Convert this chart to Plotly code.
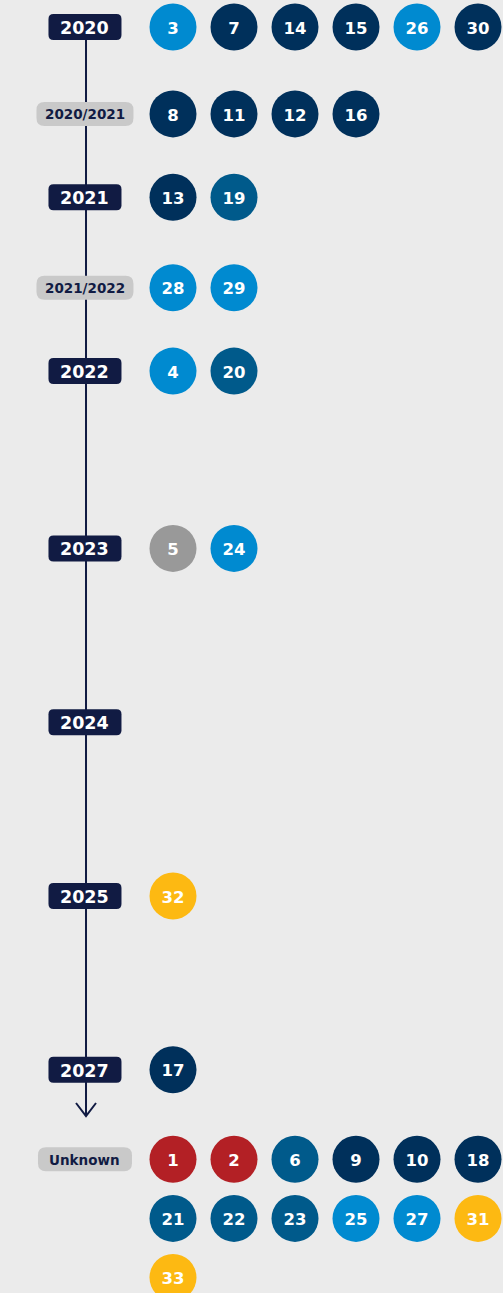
import plotly.graph_objects as go

# ---------------- data ----------------
categories = ["2020", "2020/2021", "2021", "2021/2022", "2022", "2023",
              "2024", "2025", "2027", "Unknown"]
# timeline slot of each category (equal spacing per listed year)
slots = [0, 0.5, 0.98, 1.5, 1.98, 3, 4, 5, 6, 6.515]
is_year = [True, False, True, False, True, True, True, True, True, False]

item_ids = [
    [3, 7, 14, 15, 26, 30],
    [8, 11, 12, 16],
    [13, 19],
    [28, 29],
    [4, 20],
    [5, 24],
    [],
    [32],
    [17],
    [1, 2, 6, 9, 10, 18, 21, 22, 23, 25, 27, 31, 33],
]
item_groups = [
    ["sky", "navy", "navy", "navy", "sky", "navy"],
    ["navy", "navy", "navy", "navy"],
    ["navy", "teal"],
    ["sky", "sky"],
    ["sky", "teal"],
    ["gray", "sky"],
    [],
    ["yellow"],
    ["navy"],
    ["red", "red", "teal", "navy", "navy", "navy", "teal", "teal", "teal",
     "sky", "sky", "yellow", "yellow"],
]
group_colors = {
    "navy": "#00305B",
    "teal": "#005A8B",
    "sky": "#008AD0",
    "gray": "#999999",
    "red": "#B32025",
    "yellow": "#FDB912",
}

# ---------------- styling / geometry ----------------
W, H = 503, 1293
BG = "#EBEBEB"
NAVY = "#111B43"
LGRAY = "#C9C9C9"
FONT = "DejaVu Sans"
per_row = 6
wrap_step = 0.34          # slot distance between wrapped rows
px_per_slot = 173.8
px_per_col = 61.0
top_px = 27.0
first_col_px = 173.0

y_range = [(H - top_px) / px_per_slot, -top_px / px_per_slot]
x_range = [-first_col_px / px_per_col, (W - first_col_px) / px_per_col]
line_x = -1.426
label_x = -1.443


def px2x(p):
    return p / px_per_col


def px2y(p):
    return p / px_per_slot


def rounded_rect(xc, yc, wpx, hpx, rpx):
    hw, hh = px2x(wpx / 2), px2y(hpx / 2)
    rx, ry = px2x(rpx), px2y(rpx)
    x0, x1 = xc - hw, xc + hw
    y0, y1 = yc - hh, yc + hh
    return (f"M {x0+rx},{y0} L {x1-rx},{y0} Q {x1},{y0} {x1},{y0+ry} "
            f"L {x1},{y1-ry} Q {x1},{y1} {x1-rx},{y1} L {x0+rx},{y1} "
            f"Q {x0},{y1} {x0},{y1-ry} L {x0},{y0+ry} Q {x0},{y0} {x0+rx},{y0} Z")


fig = go.Figure()

# circles
xs, ys, txt, cols = [], [], [], []
for slot, ids, grps in zip(slots, item_ids, item_groups):
    for i, (n, g) in enumerate(zip(ids, grps)):
        xs.append(i % per_row)
        ys.append(slot + (i // per_row) * wrap_step)
        txt.append(str(n))
        cols.append(group_colors[g])

fig.add_trace(go.Scatter(
    x=xs, y=ys, mode="markers",
    marker=dict(size=47, color=cols, line=dict(width=0)),
    hoverinfo="skip", showlegend=False, cliponaxis=False,
))
# numbers inside the circles (nudged down slightly to optically centre digits)
fig.add_trace(go.Scatter(
    x=xs, y=[y + px2y(2.5) for y in ys], mode="text", text=txt,
    textposition="middle center",
    textfont=dict(family=FONT, size=16.5, color="white", weight="bold"),
    hoverinfo="skip", showlegend=False, cliponaxis=False,
))

shapes = []
# timeline line + arrow
tip = px2y(1116 - top_px)
arm = px2y(1103 - top_px)
shapes.append(dict(type="line", x0=line_x, x1=line_x, y0=slots[0], y1=tip,
                   line=dict(color=NAVY, width=2)))
shapes.append(dict(type="path",
                   path=f"M {line_x-px2x(10)},{arm} L {line_x},{tip} L {line_x+px2x(10)},{arm}",
                   line=dict(color=NAVY, width=2)))

annotations = []
for cat, slot, yr in zip(categories, slots, is_year):
    if yr:
        shapes.append(dict(type="path", path=rounded_rect(label_x, slot, 73, 26, 5),
                           fillcolor=NAVY, line=dict(width=0)))
        annotations.append(dict(x=label_x, y=slot + px2y(1), text=cat, showarrow=False,
                                font=dict(family=FONT, size=17.5, color="white", weight="bold"),
                                xanchor="center", yanchor="middle"))
    else:
        wpx = 97 if "/" in cat else 94
        shapes.append(dict(type="path", path=rounded_rect(label_x, slot, wpx, 24, 8),
                           fillcolor=LGRAY, line=dict(width=0)))
        annotations.append(dict(x=label_x, y=slot + px2y(0.5), text=cat, showarrow=False,
                                font=dict(family=FONT, size=13.5, color=NAVY, weight="bold"),
                                xanchor="center", yanchor="middle"))

fig.update_layout(
    width=W, height=H,
    margin=dict(l=0, r=0, t=0, b=0),
    paper_bgcolor=BG, plot_bgcolor=BG,
    shapes=shapes, annotations=annotations,
    xaxis=dict(range=x_range, visible=False, fixedrange=True),
    yaxis=dict(range=y_range, visible=False, fixedrange=True),
    showlegend=False,
)

fig.write_html("out.html", config={"displayModeBar": False},
               post_script="document.body.style.margin='0';document.body.style.overflow='hidden';")
